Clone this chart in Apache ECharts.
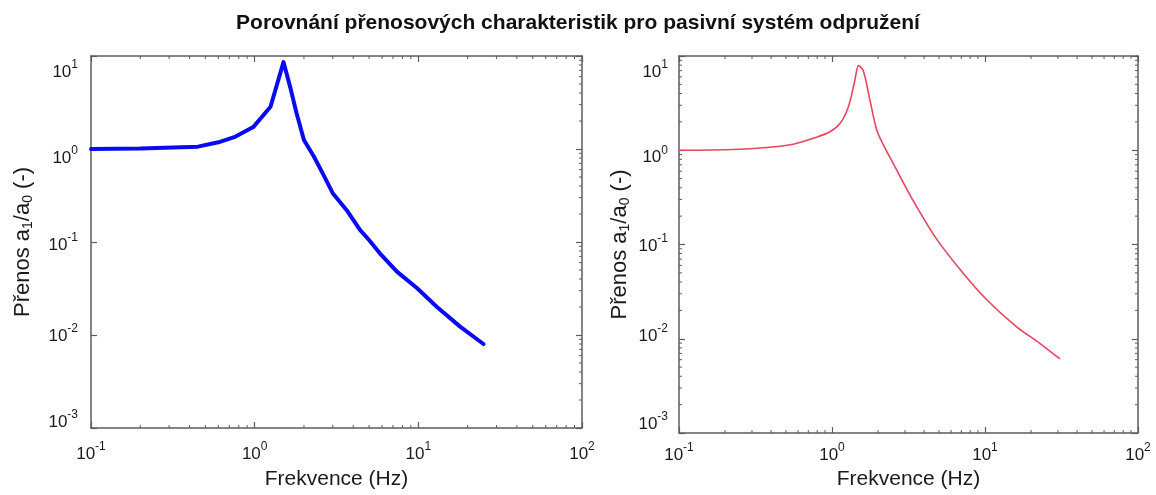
<!DOCTYPE html>
<html>
<head>
<meta charset="utf-8">
<script src="https://cdn.jsdelivr.net/npm/echarts@6/dist/echarts.min.js"></script>
<style>
  html, body { margin: 0; padding: 0; background: #fff; }
  #chart { width: 1156px; height: 495px; }
</style>
</head>
<body>
<div id="chart"></div>
<script>
// Decade exponents used for the tick labels (10^e)
const xTickExp = [-1, 0, 1, 2];
const yTickExp = [-3, -2, -1, 0, 1];

// Left panel: measured transmissibility (Hz, a1/a0)
const freqA = [0.1, 0.2, 0.45, 0.6, 0.75, 0.98, 1.25, 1.5, 1.65, 1.8, 2.0, 2.3, 2.6, 3.0, 3.65, 4.4, 5.0, 5.8, 7.4, 9.8, 13, 18, 25];
const gainA = [1.0, 1.01, 1.06, 1.18, 1.34, 1.72, 2.85, 8.6, 4.6, 2.45, 1.25, 0.83, 0.55, 0.335, 0.22, 0.135, 0.105, 0.076, 0.048, 0.032, 0.020, 0.0123, 0.008];

// Right panel: model transmissibility (Hz, a1/a0)
const freqB = [0.1, 0.226, 0.374, 0.559, 0.755, 0.97, 1.13, 1.28, 1.41, 1.49, 1.6, 1.77, 1.96, 2.15, 2.45, 2.8, 3.4, 4.83, 7.2, 10.3, 16.1, 22.9, 30.9];
const gainB = [1.0, 1.02, 1.07, 1.16, 1.34, 1.57, 1.93, 2.9, 5.5, 7.9, 7.0, 3.4, 1.64, 1.17, 0.78, 0.52, 0.29, 0.114, 0.0495, 0.0258, 0.0134, 0.0089, 0.0061];

const FONT = '"Liberation Sans", Arial, sans-serif';
const AXIS_COLOR = '#5c5c5c';
const TEXT_COLOR = '#1a1a1a';

// vertical nudge (px) of each y label relative to its tick
const yLabelShiftA = { '1': 14, '0': 7, '-1': 1, '-2': -1, '-3': -8 };
const yLabelShiftB = { '1': 14, '0': 5, '-1': -1, '-2': -5, '-3': -11 };

function powRich() {
  const rich = {
    b: { fontSize: 17, fontFamily: FONT, color: TEXT_COLOR, verticalAlign: 'bottom', lineHeight: 22 },
    s: { fontSize: 12, fontFamily: FONT, color: TEXT_COLOR, verticalAlign: 'top', lineHeight: 22 }
  };
  for (let n = 1; n <= 40; n++) {
    rich['g' + n] = { fontSize: 1, lineHeight: n, color: 'transparent' };
  }
  return rich;
}

function powFormatter(shifts) {
  return function (v) {
    const e = Math.round(Math.log10(v));
    const txt = '{b|10}{s|' + e + '}';
    const s = shifts ? (shifts[String(e)] || 0) : 0;
    if (s > 0) return '{g' + (2 * s) + '| }\n' + txt;
    if (s < 0) return txt + '\n{g' + (-2 * s) + '| }';
    return txt;
  };
}

function logAxis(extra) {
  return Object.assign({
    type: 'log',
    logBase: 10,
    axisLine: { show: true, lineStyle: { color: AXIS_COLOR, width: 1.5 } },
    axisTick: { show: true, inside: true, length: 6, lineStyle: { color: AXIS_COLOR, width: 1.2 } },
    splitLine: { show: false },
    minorTick: { show: false },
    axisLabel: { show: false }
  }, extra);
}

const nameStyle = { fontSize: 21, fontFamily: FONT, color: TEXT_COLOR };
const yNameRich = {
  fontSize: 22, fontFamily: FONT, color: TEXT_COLOR,
  rich: {
    t: { fontSize: 22, fontFamily: FONT, color: TEXT_COLOR, lineHeight: 24 },
    d: { fontSize: 14, fontFamily: FONT, color: TEXT_COLOR, lineHeight: 24, verticalAlign: 'bottom' }
  }
};
const yName = '{t|Přenos a}{d|1}{t|/a}{d|0}{t| (-)}';

const grids = [
  { left: 91, top: 56, width: 491, height: 372, outerBoundsMode: 'none', containLabel: false },
  { left: 679, top: 56, width: 459, height: 377, outerBoundsMode: 'none', containLabel: false }
];

const option = {
  animation: false,
  backgroundColor: '#ffffff',
  title: {
    text: 'Porovnání přenosových charakteristik pro pasivní systém odpružení',
    left: 'center',
    top: 8,
    textStyle: { fontSize: 21, fontWeight: 'bold', fontFamily: FONT, color: '#111' }
  },
  grid: grids,
  xAxis: [
    logAxis({ gridIndex: 0, position: 'bottom', min: 0.1, max: 100,
      axisLabel: { show: true, margin: 13, formatter: powFormatter(null), rich: powRich() },
      name: 'Frekvence (Hz)', nameLocation: 'middle', nameGap: 41, nameTextStyle: nameStyle }),
    logAxis({ gridIndex: 0, position: 'top', min: 0.1, max: 100 }),
    logAxis({ gridIndex: 1, position: 'bottom', min: 0.1, max: 100,
      axisLabel: { show: true, margin: 9, formatter: powFormatter(null), rich: powRich() },
      name: 'Frekvence (Hz)', nameLocation: 'middle', nameGap: 36, nameTextStyle: nameStyle }),
    logAxis({ gridIndex: 1, position: 'top', min: 0.1, max: 100 })
  ],
  yAxis: [
    logAxis({ gridIndex: 0, position: 'left', min: 0.001, max: 10,
      axisLabel: { show: true, margin: 13, formatter: powFormatter(yLabelShiftA), rich: powRich() },
      name: yName, nameLocation: 'middle', nameGap: 56, nameRotate: 90, nameTextStyle: yNameRich }),
    logAxis({ gridIndex: 0, position: 'right', min: 0.001, max: 10 }),
    logAxis({ gridIndex: 1, position: 'left', min: 0.001, max: 10,
      axisLabel: { show: true, margin: 11, formatter: powFormatter(yLabelShiftB), rich: powRich() },
      name: yName, nameLocation: 'middle', nameGap: 47, nameRotate: 90, nameTextStyle: yNameRich }),
    logAxis({ gridIndex: 1, position: 'right', min: 0.001, max: 10 })
  ],
  series: [
    {
      type: 'line',
      xAxisIndex: 0, yAxisIndex: 0,
      data: freqA.map((f, i) => [f, gainA[i]]),
      showSymbol: false,
      lineStyle: { color: '#0a0af2', width: 4, cap: 'round', join: 'round' },
      z: 3
    },
    {
      type: 'line',
      xAxisIndex: 2, yAxisIndex: 2,
      data: freqB.map((f, i) => [f, gainB[i]]),
      showSymbol: false,
      smooth: 0.3,
      lineStyle: { color: '#e6455f', width: 1.6 },
      z: 3
    }
  ]
};

const chart = echarts.init(document.getElementById('chart'), null, { renderer: 'canvas' });
chart.setOption(option);

// Minor ticks at 2..9 within each decade, drawn inward along the frame
function minorTickLines(xIdx, yIdx, sides) {
  const out = [];
  const px = (x, y) => chart.convertToPixel({ xAxisIndex: xIdx, yAxisIndex: yIdx }, [x, y]);
  const bl = px(0.1, 0.001);
  const tr = px(100, 10);
  const left = bl[0], bottom = bl[1], right = tr[0], top = tr[1];
  const len = 3;
  const style = { stroke: AXIS_COLOR, lineWidth: 1 };
  for (let d = -1; d < 2; d++) {
    for (let k = 2; k <= 9; k++) {
      const x = px(k * Math.pow(10, d), 1)[0];
      if (sides.bottom) out.push({ type: 'line', silent: true, z: 10, shape: { x1: x, y1: bottom, x2: x, y2: bottom - len }, style });
      if (sides.top) out.push({ type: 'line', silent: true, z: 10, shape: { x1: x, y1: top, x2: x, y2: top + len }, style });
    }
  }
  for (let d = -3; d < 1; d++) {
    for (let k = 2; k <= 9; k++) {
      const y = px(1, k * Math.pow(10, d))[1];
      if (sides.left) out.push({ type: 'line', silent: true, z: 10, shape: { x1: left, y1: y, x2: left + len, y2: y }, style });
      if (sides.right) out.push({ type: 'line', silent: true, z: 10, shape: { x1: right, y1: y, x2: right - len, y2: y }, style });
    }
  }
  return out;
}

chart.setOption({
  graphic: [].concat(
    minorTickLines(0, 0, { bottom: true, top: true, left: false, right: true }),
    minorTickLines(2, 2, { bottom: true, top: true, left: true, right: true })
  )
});
</script>
</body>
</html>
